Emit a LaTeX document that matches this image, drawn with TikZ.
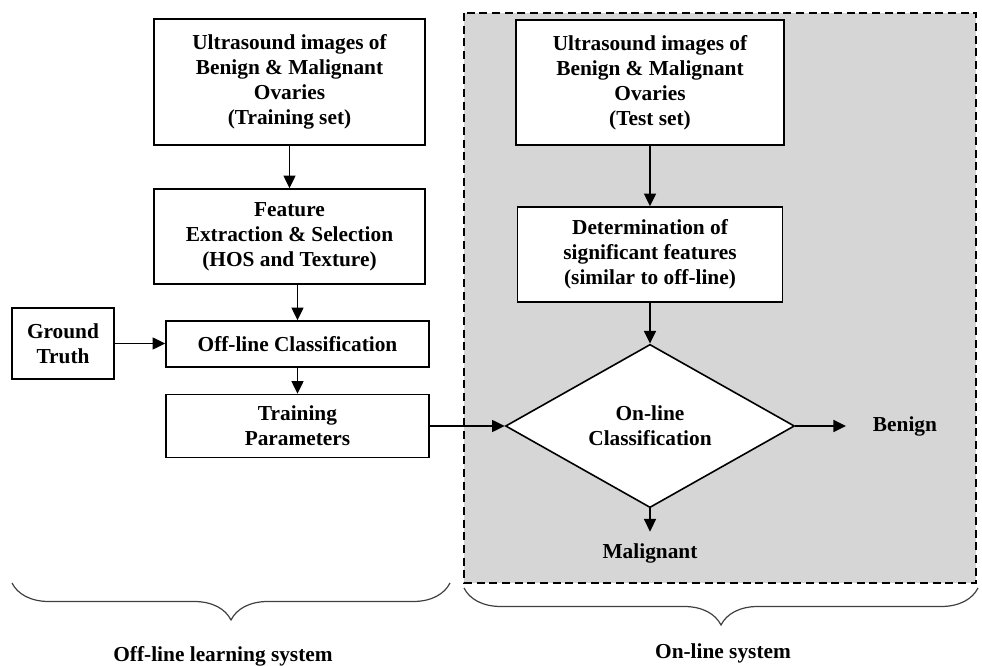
\documentclass[tikz,border=0pt]{standalone}
\usepackage{fontspec}
\setmainfont{Liberation Serif}
\usetikzlibrary{shapes.geometric,arrows.meta,decorations.pathreplacing}

\begin{document}
\begin{tikzpicture}[x=0.75pt,y=-0.75pt,
  font=\fontsize{16}{18.75}\selectfont\bfseries,
  blk/.style={draw,fill=white,line width=1.2pt,align=center,inner sep=0pt},
  arr/.style={line width=1.2pt,-{Triangle[length=9.5pt,width=9pt]}},
  brc/.style={decorate,decoration={brace,mirror,amplitude=27.75pt},line width=0.9pt,draw=black!75}]
\useasboundingbox (0,0) rectangle (982,666);
% on-line area
\draw[line width=1.2pt,dash pattern=on 6pt off 3.5pt,fill=black!16] (464,13) rectangle (976,583);

% off-line learning
\node[blk,minimum width=203.25pt,minimum height=94.5pt] (train) at (289.5,82)
  {Ultrasound images of\\Benign \& Malignant\\Ovaries\\(Training set)};
\node[blk,minimum width=203.25pt,minimum height=71.25pt] (feat) at (289.5,236.5)
  {Feature\\Extraction \& Selection\\(HOS and Texture)};
\node[blk,minimum width=76.5pt,minimum height=53.25pt] (truth) at (63,343.5)
  {Ground\\Truth};
\node[blk,minimum width=197.25pt,minimum height=34.5pt] (offcls) at (297.5,344)
  {Off-line Classification};
\node[blk,minimum width=197.25pt,minimum height=47.25pt] (params) at (297.5,426)
  {Training\\Parameters};

% on-line
\node[blk,minimum width=201pt,minimum height=93.75pt] (test) at (650,82.5)
  {Ultrasound images of\\Benign \& Malignant\\Ovaries\\(Test set)};
\node[blk,minimum width=198.75pt,minimum height=71.25pt] (determ) at (650,254.5)
  {Determination of\\significant features\\(similar to off-line)};
\node[blk,diamond,minimum width=216.75pt,minimum height=105.75pt] (oncls) at (650,426)
  {On-line\\Classification};
\node[inner sep=0pt] (benign) at (905,426) {Benign};
\node[inner sep=0pt] (malig) at (650,553) {Malignant};

\draw[arr] (train.south) -- (feat.north);
\draw[arr] (offcls.north |- feat.south) -- (offcls.north);
\draw[arr] (truth.east) -- (truth.east -| offcls.west);
\draw[arr] (offcls.south) -- (params.north);
\draw[arr] (params.east) -- (oncls.west);
\draw[arr] (test.south) -- (determ.north);
\draw[arr] (determ.south) -- (oncls.north);
\draw[arr,shorten >=20pt] (oncls.east) -- (benign.west);
\draw[arr,shorten >=8.5pt] (oncls.south) -- (malig.north);

% braces
\coordinate (offa) at (12,583);
\coordinate (offb) at (450,583);
\coordinate (ona) at (464,588);
\coordinate (onb) at (978,588);
\draw[brc] (offa) -- (offb);
\draw[brc] (ona) -- (onb);
\node (offlbl) at (223,656) {Off-line learning system};
\node (onlbl) at (723,653) {On-line system};
\end{tikzpicture}
\end{document}
